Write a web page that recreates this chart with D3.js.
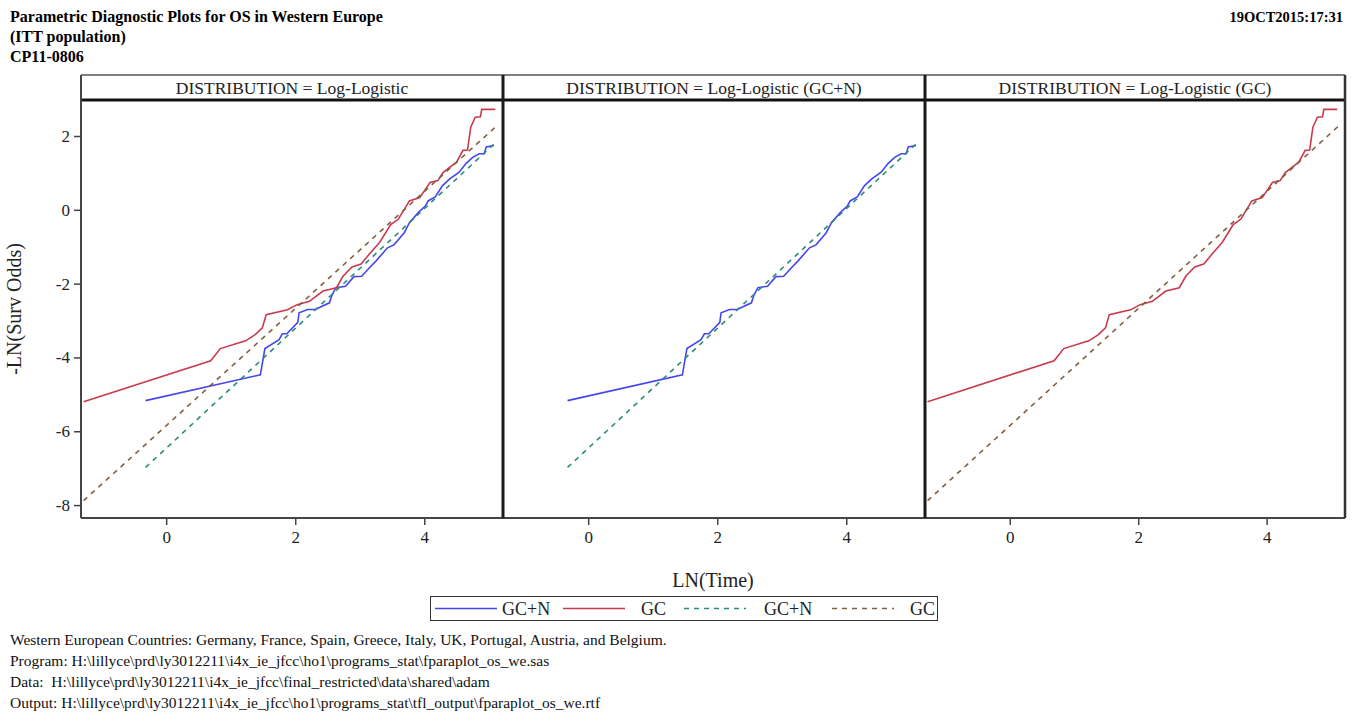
<!DOCTYPE html>
<html><head><meta charset="utf-8">
<script src="https://cdn.jsdelivr.net/npm/d3@7"></script>
<style>
body{margin:0;background:#fff}
text{font-family:"Liberation Serif","Times New Roman",serif}
</style>
</head><body>
<svg id="c" width="1355" height="713"></svg>
<script>
// ---------------- data ----------------
const titleLines = ["Parametric Diagnostic Plots for OS in Western Europe", "(ITT population)", "CP11-0806"];
const dateStamp = "19OCT2015:17:31";
const panelTitles = ["DISTRIBUTION = Log-Logistic", "DISTRIBUTION = Log-Logistic (GC+N)", "DISTRIBUTION = Log-Logistic (GC)"];
const xTicks = [0, 2, 4];
const yTicks = [2, 0, -2, -4, -6, -8];
const xLabel = "LN(Time)";
const yLabel = "-LN(Surv Odds)";

// empirical GC+N (step-like curve)
const gcnX = [-0.32, 1.46, 1.53, 1.75, 1.80, 1.87, 2.04, 2.06, 2.19, 2.31, 2.53, 2.57, 2.63, 2.78, 2.91, 3.03, 3.15, 3.25, 3.43, 3.53, 3.69, 3.77, 3.91, 4.02, 4.06, 4.17, 4.28, 4.39, 4.54, 4.65, 4.75, 4.85, 4.93, 4.96, 5.08];
const gcnY = [-5.17, -4.47, -3.76, -3.52, -3.36, -3.36, -3.05, -2.79, -2.70, -2.70, -2.52, -2.31, -2.11, -2.07, -1.81, -1.80, -1.57, -1.39, -1.03, -0.95, -0.62, -0.35, -0.07, 0.11, 0.24, 0.35, 0.65, 0.83, 1.02, 1.26, 1.42, 1.52, 1.52, 1.70, 1.74];
// empirical GC
const gcX = [-1.28, 0.69, 0.84, 1.23, 1.38, 1.49, 1.55, 1.88, 2.03, 2.22, 2.43, 2.64, 2.74, 2.88, 3.02, 3.15, 3.31, 3.48, 3.60, 3.77, 3.93, 4.09, 4.21, 4.29, 4.50, 4.60, 4.67, 4.72, 4.79, 4.87, 4.89, 5.10];
const gcY = [-5.20, -4.09, -3.76, -3.55, -3.38, -3.20, -2.84, -2.71, -2.57, -2.48, -2.20, -2.11, -1.80, -1.55, -1.47, -1.20, -0.88, -0.40, -0.25, 0.24, 0.33, 0.74, 0.79, 1.01, 1.29, 1.61, 1.62, 2.24, 2.51, 2.52, 2.72, 2.72];
// fitted lines
const fitGcnX = [-0.32, 5.11];
const fitGcnY = [-6.98, 1.83];
const fitGcX = [-1.28, 5.12];
const fitGcY = [-7.88, 2.27];

const legendLabels = ["GC+N", "GC", "GC+N", "GC"];
const footnotes = [
  "Western European Countries: Germany, France, Spain, Greece, Italy, UK, Portugal, Austria, and Belgium.",
  "Program: H:\\lillyce\\prd\\ly3012211\\i4x_ie_jfcc\\ho1\\programs_stat\\fparaplot_os_we.sas",
  "Data:  H:\\lillyce\\prd\\ly3012211\\i4x_ie_jfcc\\final_restricted\\data\\shared\\adam",
  "Output: H:\\lillyce\\prd\\ly3012211\\i4x_ie_jfcc\\ho1\\programs_stat\\tfl_output\\fparaplot_os_we.rtf"
];

// ---------------- layout/styles ----------------
const series = {
  gcn:    {x: gcnX, y: gcnY, color: "#4646ee", dash: null},
  gc:     {x: gcX, y: gcY, color: "#c83a4e", dash: null},
  fitGcn: {x: fitGcnX, y: fitGcnY, color: "#2a8c7e", dash: "5,5"},
  fitGc:  {x: fitGcX, y: fitGcY, color: "#82603e", dash: "5,5"}
};
const legendKeys = ["gcn", "gc", "fitGcn", "fitGc"];
const panelSeries = [["gcn", "gc", "fitGcn", "fitGc"], ["gcn", "fitGcn"], ["gc", "fitGc"]];
const edges = [81, 503, 925, 1345];
const plotTop = 100, plotBottom = 518, headTop = 75;

const svg = d3.select("#c");

// titles
svg.selectAll("text.title").data(titleLines).join("text")
  .attr("x", 10).attr("y", (d, i) => 22 + i * 20)
  .attr("font-size", 16).attr("font-weight", "bold").attr("fill", "#000").text(d => d);
svg.append("text").attr("x", 1343).attr("y", 22).attr("text-anchor", "end")
  .attr("font-size", 14.5).attr("font-weight", "bold").attr("fill", "#000").text(dateStamp);

const y = d3.scaleLinear().domain([-8.35, 2.975]).range([plotBottom, plotTop]);

const defs = svg.append("defs");

panelTitles.forEach((t, i) => {
  const x = d3.scaleLinear().domain([-1.32, 5.22]).range([edges[i], edges[i + 1]]);
  const g = svg.append("g");
  defs.append("clipPath").attr("id", "clip" + i).append("rect")
    .attr("x", edges[i]).attr("y", plotTop).attr("width", edges[i + 1] - edges[i]).attr("height", plotBottom - plotTop);

  const pg = g.append("g").attr("clip-path", `url(#clip${i})`);
  const line = d3.line().x(d => x(d[0])).y(d => y(d[1]));
  panelSeries[i].forEach(k => {
    const s = series[k];
    const pts = s.x.map((v, j) => [v, s.y[j]]);
    pg.append("path").datum(pts).attr("d", line)
      .attr("fill", "none").attr("stroke", s.color).attr("stroke-width", 1.6)
      .attr("stroke-dasharray", s.dash);
  });

  // x axis
  const xa = g.append("g").attr("transform", `translate(0,${plotBottom})`)
    .call(d3.axisBottom(x).tickValues(xTicks).tickSize(7).tickPadding(6).tickFormat(d3.format("d")));
  xa.select(".domain").remove();
  xa.selectAll("line").attr("stroke", "#444").attr("stroke-width", 1.5);
  xa.selectAll("text").attr("font-size", 17).attr("fill", "#222");

  // header
  g.append("text").attr("x", (edges[i] + edges[i + 1]) / 2).attr("y", 94)
    .attr("text-anchor", "middle").attr("font-size", 17.5).attr("fill", "#222").text(t);
});

// y axis
const ya = svg.append("g").attr("transform", `translate(${edges[0]},0)`)
  .call(d3.axisLeft(y).tickValues(yTicks).tickSize(7).tickPadding(4).tickFormat(d => d3.format("d")(d).replace("−", "-")));
ya.select(".domain").remove();
ya.selectAll("line").attr("stroke", "#444").attr("stroke-width", 1.5);
ya.selectAll("text").attr("font-size", 17).attr("fill", "#222");

// frames
svg.append("line").attr("x1", edges[0]).attr("x2", edges[3]).attr("y1", headTop).attr("y2", headTop).attr("stroke", "#555").attr("stroke-width", 1.5);
svg.append("line").attr("x1", edges[0]).attr("x2", edges[3]).attr("y1", plotTop).attr("y2", plotTop).attr("stroke", "#111").attr("stroke-width", 3);
svg.append("line").attr("x1", edges[0]).attr("x2", edges[3]).attr("y1", plotBottom).attr("y2", plotBottom).attr("stroke", "#444").attr("stroke-width", 2);
svg.append("line").attr("x1", edges[0]).attr("x2", edges[0]).attr("y1", headTop).attr("y2", plotBottom).attr("stroke", "#444").attr("stroke-width", 2);
svg.append("line").attr("x1", edges[3]).attr("x2", edges[3]).attr("y1", headTop).attr("y2", plotBottom).attr("stroke", "#333").attr("stroke-width", 2.5);
[edges[1], edges[2]].forEach(e => {
  svg.append("line").attr("x1", e).attr("x2", e).attr("y1", headTop).attr("y2", plotBottom).attr("stroke", "#1a1a1a").attr("stroke-width", 3);
});

// axis labels
svg.append("text").attr("x", (edges[0] + edges[3]) / 2).attr("y", 587).attr("text-anchor", "middle")
  .attr("font-size", 20).attr("fill", "#222").text(xLabel);
svg.append("text").attr("transform", `translate(21,${(plotTop + plotBottom) / 2}) rotate(-90)`).attr("text-anchor", "middle")
  .attr("font-size", 20).attr("fill", "#222").text(yLabel);

// legend
const lg = svg.append("g");
lg.append("rect").attr("x", 430.5).attr("y", 596.5).attr("width", 507).attr("height", 24)
  .attr("fill", "#fff").attr("stroke", "#333").attr("stroke-width", 1);
const lineStarts = [435, 563, 684, 832];
const textStarts = [502, 641, 764, 910];
legendKeys.forEach((k, i) => {
  const s = series[k];
  lg.append("line").attr("x1", lineStarts[i]).attr("x2", lineStarts[i] + 62).attr("y1", 608.5).attr("y2", 608.5)
    .attr("stroke", s.color).attr("stroke-width", 1.6).attr("stroke-dasharray", s.dash);
  lg.append("text").attr("x", textStarts[i]).attr("y", 614.5).attr("font-size", 18).attr("fill", "#222").text(legendLabels[i]);
});

// footnotes
svg.selectAll("text.foot").data(footnotes).join("text")
  .attr("x", 10).attr("y", (d, i) => 645 + i * 21)
  .attr("font-size", 15.5).attr("fill", "#111").style("white-space", "pre").attr("xml:space", "preserve").text(d => d);
</script>
</body></html>
